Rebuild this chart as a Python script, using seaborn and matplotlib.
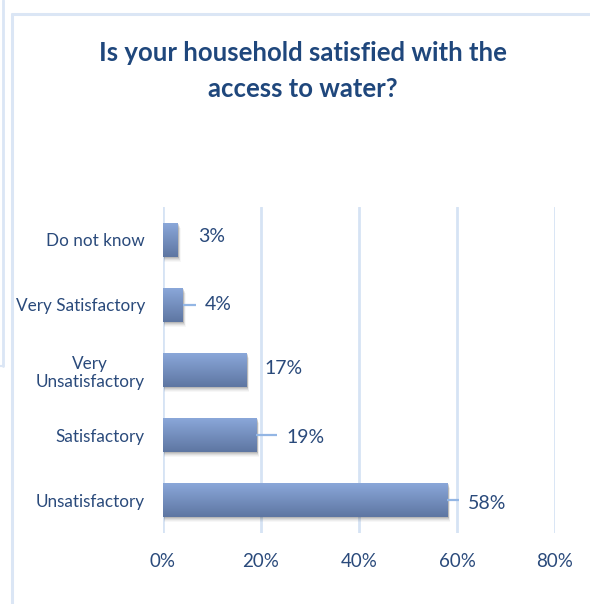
import numpy as np
import pandas as pd
import matplotlib
matplotlib.use("Agg")
import matplotlib.pyplot as plt
from matplotlib.colors import LinearSegmentedColormap
from matplotlib.lines import Line2D
from matplotlib.patches import Rectangle
import seaborn as sns

# Survey responses (share of households)
categories = ["Do not know", "Very Satisfactory", "Very\nUnsatisfactory",
              "Satisfactory", "Unsatisfactory"]
shares = [0.03, 0.04, 0.17, 0.19, 0.58]
value_labels = ["3%", "4%", "17%", "19%", "58%"]
x_ticks = [0.0, 0.2, 0.4, 0.6, 0.8]
x_tick_labels = ["0%", "20%", "40%", "60%", "80%"]
title = "Is your household satisfied with the\naccess to water?"

# label placement: pixel gap after bar end, vertical pixel nudge, leader line?
label_gap_px = [20, 22, 18, 30, 21]
label_dy_px = [-3, 0, -1, 2, 3]
leader = [False, True, False, True, True]

sns.set_theme(style="white")
plt.rcParams["font.family"] = ["Lato", "DejaVu Sans"]

W, H = 590, 604
fig = plt.figure(figsize=(W / 100, H / 100), dpi=100)
fig.patch.set_facecolor("white")

text_col = "#2a4a7b"
grid_col = "#d6e3f4"
frame_col = "#dbe6f5"

# outer frame fragments (kept behind everything else)
frame_kw = dict(transform=fig.transFigure, color=frame_col, zorder=-5)
fig.add_artist(Line2D([2.5 / W, 2.5 / W], [1, 1 - 366 / H], lw=2, **frame_kw))
fig.add_artist(Line2D([0, 2.5 / W], [1 - 366 / H, 1 - 366 / H], lw=1.5, **frame_kw))
fig.add_artist(Line2D([12 / W, 12 / W], [0, 1 - 14 / H], lw=2.2, **frame_kw))
fig.add_artist(Line2D([12 / W, 1], [1 - 14 / H, 1 - 14 / H], lw=2.2, **frame_kw))

left, right, top, bottom = 163, 555, 207, 533
ax = fig.add_axes([left / W, 1 - bottom / H, (right - left) / W, (bottom - top) / H])

df = pd.DataFrame({"category": categories, "share": shares})
sns.barplot(data=df, x="share", y="category", orient="h", ax=ax, width=0.52,
            color="#7b96c6", saturation=1, zorder=3)

ax.set_xlim(0, 0.8)
ax.set_ylim(4.5, -0.5)
ax.set_xticks(x_ticks)
ax.set_xticklabels(x_tick_labels)
ax.set_xlabel("")
ax.set_ylabel("")
for s in ax.spines.values():
    s.set_visible(False)
ax.set_facecolor("none")
ax.grid(False)
for xv in x_ticks:
    ax.axvline(xv, color=grid_col, lw=2.0, zorder=1)
ax.tick_params(axis="x", colors=text_col, labelsize=13.5, length=0, pad=14.5)
ax.tick_params(axis="y", colors=text_col, labelsize=12.3, length=0, pad=13)
for t in ax.get_yticklabels():
    t.set_multialignment("center")

# gradient fill and soft shadow for each bar
grad = LinearSegmentedColormap.from_list("bar", ["#8aa7d9", "#5e76a2"])
gimg = np.linspace(0, 1, 64).reshape(-1, 1)
px = (0.8 / (right - left))          # data units per pixel in x
py = (5.0 / (bottom - top))          # data units per pixel in y
for p in ax.patches:
    x0, y0 = p.get_x(), p.get_y()
    w, h = p.get_width(), p.get_height()
    for k, a in enumerate([0.10, 0.08, 0.06, 0.04, 0.03]):
        d = k + 1
        ax.add_patch(Rectangle((x0 + 1 * px, y0 + d * py), w + d * 0.4 * px, h,
                               facecolor="#000000", alpha=a, lw=0, zorder=2))
    p.set_facecolor("none")
    p.set_edgecolor("none")
    ax.imshow(gimg, cmap=grad, aspect="auto", extent=(x0, x0 + w, y0 + h, y0),
              zorder=3.5, interpolation="bicubic")
ax.set_xlim(0, 0.8)
ax.set_ylim(4.5, -0.5)

# value labels with leader lines
lead_col = "#93b6e4"
for i, (v, lab) in enumerate(zip(shares, value_labels)):
    xl = v + label_gap_px[i] * px
    yl = i + label_dy_px[i] * py
    ax.text(xl, yl, lab, color=text_col, fontsize=14, va="center", ha="left",
            zorder=5)
    if leader[i]:
        ax.plot([v, xl - 9 * px], [i, i], color=lead_col, lw=1.6, zorder=4,
                solid_capstyle="butt")

fig.text((W / 2 + 8) / W, 1 - 71 / H, title, ha="center", va="center",
         fontsize=18.5, fontweight="bold", color="#1f477c", linespacing=1.6)

fig.savefig("out.png", dpi=100, facecolor="white")
